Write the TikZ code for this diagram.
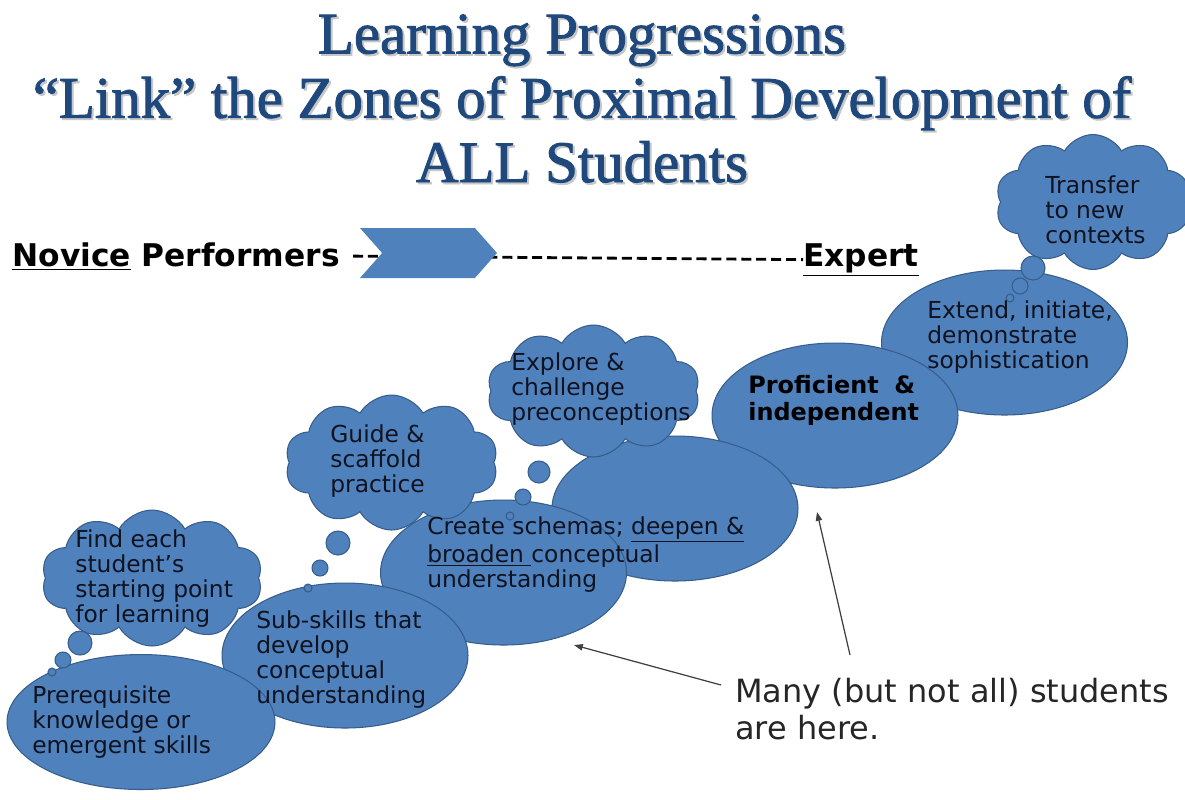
\documentclass[tikz,border=0pt]{standalone}
\usepackage{fontspec}
\setmainfont{DejaVu Sans}
\newfontfamily\headfont[FakeBold=1.6]{Liberation Serif}
\usetikzlibrary{positioning,arrows.meta,shapes.geometric,shapes.symbols}
\definecolor{zoneblue}{HTML}{4F81BD}
\definecolor{zoneline}{HTML}{385D8A}
\definecolor{headblue}{HTML}{1F497D}
\definecolor{inktext}{HTML}{10131F}

\begin{document}
\begin{tikzpicture}[x=0.02cm, y=-0.02cm,
  zone/.style={ellipse, draw=zoneline, fill=zoneblue, line width=0.6pt,
               minimum width=4.92cm, minimum height=2.9cm, inner sep=0pt},
  thought/.style={cloud, cloud puffs=10, cloud puff arc=120, draw=zoneline,
                  fill=zoneblue, line width=0.6pt, inner sep=0pt},
  bubble/.style={draw=zoneline, fill=zoneblue, line width=0.6pt},
  % labels are placed by the baseline of their last line
  lbl/.style={anchor=base west, align=left, inner sep=0pt, text=inktext,
              font=\fontsize{13.3}{14.2}\selectfont},
  head/.style={anchor=base, align=center, inner sep=0pt,
               font=\headfont\fontsize{33.5}{36.6}\selectfont},
  scalebar/.style={anchor=base west, inner sep=0pt, text=black,
                font=\bfseries\fontsize{17.8}{20}\selectfont},
  note/.style={anchor=base west, align=left, inner sep=0pt, text=black!85,
               font=\fontsize{18.2}{21}\selectfont},
  pointer/.style={draw=black!75, line width=0.7pt,
                  -{Triangle[length=5pt,width=3.6pt]}},
]
\useasboundingbox[fill=white] (0,0) rectangle (1185,799);

% title with its soft shadow
\node[head, text=black!22] (titleshadow) at (584,184)
  {Learning Progressions\\“Link” the Zones of Proximal Development of\\ALL Students};
\node[head, text=headblue] (title) at (582,182)
  {Learning Progressions\\“Link” the Zones of Proximal Development of\\ALL Students};

% novice -> expert scale
\node[scalebar] (novice) at (12,266) {\underline{Novice} Performers};
\node[scalebar] (expert) at (803,266) {\underline{Expert}};
\draw[line width=1.6pt, dash pattern=on 5.7pt off 2.8pt]
  ([xshift=0.26cm]novice.east) -- (expert.west);
\node[signal, signal to=east, signal from=west, signal pointer angle=97,
      fill=zoneblue, minimum width=2.74cm, minimum height=1cm,
      inner sep=0pt] (chevron) at (428.5,253) {};

% zones, back to front
\node[zone] (extend) at (1004.5,342.5) {};
\node[zone] (proficient) at (835,415.5) {};
\node[zone] (blank) at (675,508.5) {};
\node[zone] (schema) at (503.5,572.5) {};
\node[zone] (subskill) at (345,655.5) {};
\node[zone, minimum width=5.36cm, minimum height=2.7cm] (prereq) at (141,722) {};

% thought clouds
\node[thought, minimum width=4.42cm, minimum height=2.72cm] (findcloud) at (152,578) {};
\node[thought, minimum width=4.26cm, minimum height=2.7cm] (guidecloud) at (391.5,462.5) {};
\node[thought, minimum width=4.26cm, minimum height=2.64cm] (explorecloud) at (593.5,391) {};
\node[thought, minimum width=3.9cm, minimum height=2.7cm] (transfercloud) at (1093,202) {};

% bubbles trailing from each cloud
\foreach \cx/\cy/\r in {80/643/12, 63/660/8, 52/672/4,
                        338/543/12, 320/568/8, 308/588/4,
                        539/472/11, 523/497/8, 510/516/4,
                        1033/268/12, 1020/286/8, 1010/298/4}
  \draw[bubble] (\cx,\cy) circle[radius=\r];

% texts
\node[lbl] (prereqtxt) at (32,753) {Prerequisite\\knowledge or\\emergent skills};
\node[lbl] (subtxt) at (256,703) {Sub-skills that\\develop\\conceptual\\understanding};
\node[lbl] (schematxt) at (427,587)
  {Create schemas; \underline{deepen \&}\\\underline{broaden }conceptual\\understanding};
\node[lbl, font=\bfseries\fontsize{13.6}{15.3}\selectfont, text=black] (proftxt)
  at (748,420) {Proficient\hspace{0.3em} \&\\independent};
\node[lbl] (extendtxt) at (927,368) {Extend, initiate,\\demonstrate\\sophistication};
\node[lbl] (findtxt) at (75,622) {Find each\\student’s\\starting point\\for learning};
\node[lbl] (guidetxt) at (330,492) {Guide \&\\scaffold\\practice};
\node[lbl] (exploretxt) at (511,420) {Explore \&\\challenge\\preconceptions};
\node[lbl] (transfertxt) at (1045,243) {Transfer\\to new\\contexts};

% where most students sit
\node[note] (many) at (735,739) {Many (but not all) students\\are here.};
\coordinate (leftfrom) at (721,685);
\coordinate (lefttip) at (574,645);
\coordinate (upfrom) at (850,655);
\coordinate (uptip) at (817,512);
\draw[pointer] (leftfrom) -- (lefttip);
\draw[pointer] (upfrom) -- (uptip);

\end{tikzpicture}
\end{document}
